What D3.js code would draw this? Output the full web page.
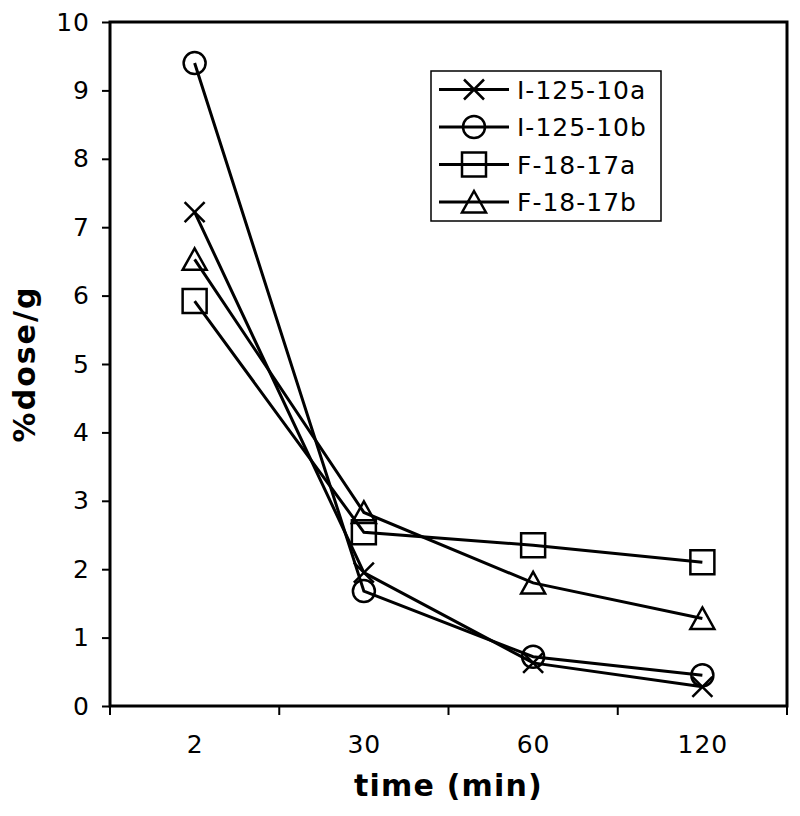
<!DOCTYPE html>
<html>
<head>
<meta charset="utf-8">
<script src="https://cdn.jsdelivr.net/npm/d3@7"></script>
<style>
  html, body { margin: 0; padding: 0; background: #fff; }
  svg { display: block; }
  text { font-family: "DejaVu Sans", Verdana, sans-serif; fill: #000; }
</style>
</head>
<body>
<script>
const categories = ["2", "30", "60", "120"];
const seriesNames = ["I-125-10a", "I-125-10b", "F-18-17a", "F-18-17b"];
const i125_10a = [7.22, 1.95, 0.63, 0.28];
const i125_10b = [9.40, 1.68, 0.72, 0.45];
const f18_17a = [5.92, 2.54, 2.35, 2.10];
const f18_17b = [6.53, 2.83, 1.80, 1.28];
const yTicks = [0, 1, 2, 3, 4, 5, 6, 7, 8, 9, 10];
const markerTypes = ["cross", "circle", "square", "triangle"];

const series = [i125_10a, i125_10b, f18_17a, f18_17b].map((vals, i) => ({
  name: seriesNames[i], marker: markerTypes[i],
  points: vals.map((v, j) => ({ cat: categories[j], v }))
}));

const W = 800, H = 816;
const m = { left: 110, right: 13, top: 22, bottom: 110 };
const svg = d3.select("body").append("svg").attr("width", W).attr("height", H);

const x = d3.scaleBand().domain(categories).range([m.left, W - m.right]).padding(0);
const y = d3.scaleLinear().domain([0, 10]).range([H - m.bottom, m.top]);
const cx = c => x(c) + x.bandwidth() / 2;

function markerPath(type) {
  const p = d3.path();
  if (type === "cross") {
    p.moveTo(-10, -10); p.lineTo(10, 10); p.moveTo(10, -10); p.lineTo(-10, 10);
  } else if (type === "circle") {
    p.moveTo(11, 0); p.arc(0, 0, 11, 0, 2 * Math.PI);
  } else if (type === "square") {
    p.rect(-12, -12, 24, 24);
  } else {
    p.moveTo(0, -11); p.lineTo(12, 10.5); p.lineTo(-12, 10.5); p.closePath();
  }
  return p.toString();
}

// y axis
const yAxis = d3.axisLeft(y).tickValues(yTicks).tickSize(8).tickPadding(13).tickFormat(d3.format("d"));
const gy = svg.append("g").attr("transform", `translate(${m.left},0)`).call(yAxis);
gy.select(".domain").remove();
gy.attr("font-size", null).attr("font-family", null);
gy.selectAll(".tick line").attr("stroke", "#000").attr("stroke-width", 2);
gy.selectAll(".tick text").attr("font-size", 25).attr("letter-spacing", 1)
  .attr("dx", 1);

// x axis: ticks at band boundaries
const xBounds = categories.map(c => x(c)).concat([x(categories[categories.length - 1]) + x.bandwidth()]);
const gx = svg.append("g").attr("transform", `translate(0,${H - m.bottom})`);
gx.selectAll("line.tk").data(xBounds).join("line").attr("class", "tk")
  .attr("x1", d => d).attr("x2", d => d).attr("y1", 0).attr("y2", 9)
  .attr("stroke", "#000").attr("stroke-width", 2);
gx.selectAll("text").data(categories).join("text")
  .attr("x", d => cx(d) + 0.5).attr("y", 47).attr("text-anchor", "middle")
  .attr("font-size", 25).attr("letter-spacing", 1).text(d => d);

// plot border
svg.append("rect").attr("x", m.left).attr("y", m.top)
  .attr("width", W - m.right - m.left).attr("height", H - m.bottom - m.top)
  .attr("fill", "none").attr("stroke", "#000").attr("stroke-width", 3);

// lines
const line = d3.line().x(d => cx(d.cat)).y(d => y(d.v));
const gs = svg.append("g").selectAll("g").data(series).join("g");
gs.append("path").attr("d", d => line(d.points))
  .attr("fill", "none").attr("stroke", "#000").attr("stroke-width", 3);
gs.each(function (s) {
  d3.select(this).selectAll("path.mk").data(s.points).join("path").attr("class", "mk")
    .attr("transform", d => `translate(${cx(d.cat)},${y(d.v)})`)
    .attr("d", markerPath(s.marker))
    .attr("fill", "none").attr("stroke", "#000").attr("stroke-width", 2.5);
});

// axis titles
svg.append("text").attr("x", (m.left + W - m.right) / 2).attr("y", 796)
  .attr("text-anchor", "middle").attr("font-size", 30).attr("font-weight", "bold")
  .attr("letter-spacing", 1.2).text("time (min)");
svg.append("text").attr("transform", `translate(35,${(m.top + H - m.bottom) / 2}) rotate(-90)`)
  .attr("text-anchor", "middle").attr("font-size", 30).attr("font-weight", "bold")
  .attr("letter-spacing", 2).text("%dose/g");

// legend
const lg = svg.append("g").attr("transform", "translate(431,71)");
lg.append("rect").attr("width", 230).attr("height", 150)
  .attr("fill", "#fff").attr("stroke", "#000").attr("stroke-width", 1.5);
const rows = lg.selectAll("g.row").data(series).join("g").attr("class", "row")
  .attr("transform", (d, i) => `translate(0,${18.5 + i * 37.5})`);
rows.append("line").attr("x1", 8).attr("x2", 78).attr("stroke", "#000").attr("stroke-width", 3);
rows.append("path").attr("transform", "translate(43,0)").attr("d", d => markerPath(d.marker))
  .attr("fill", "none").attr("stroke", "#000").attr("stroke-width", 2.5);
rows.append("text").attr("x", 86).attr("y", 0).attr("dy", "0.36em")
  .attr("font-size", 25).attr("letter-spacing", 1).text(d => d.name);
</script>
</body>
</html>
